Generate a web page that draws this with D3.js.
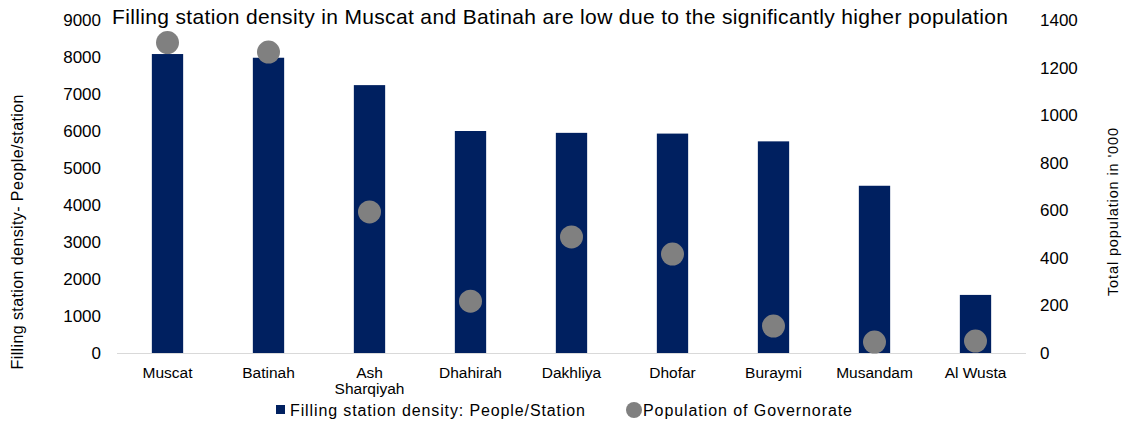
<!DOCTYPE html>
<html><head><meta charset="utf-8">
<script src="https://cdn.jsdelivr.net/npm/d3@7"></script>
<style>body{margin:0;background:#fff}svg{display:block;font-family:Arial,"Liberation Sans",sans-serif}</style>
</head><body>
<svg id="c" width="1125" height="423"></svg>
<script>
const categories = ["Muscat","Batinah","Ash Sharqiyah","Dhahirah","Dakhliya","Dhofar","Buraymi","Musandam","Al Wusta"];
const density = [8080,7980,7240,6000,5950,5930,5720,4520,1570];
const population = [1305,1265,593,218,488,416,113,46,50];
const leftTicks = [0,1000,2000,3000,4000,5000,6000,7000,8000,9000];
const rightTicks = [0,200,400,600,800,1000,1200,1400];
const titleText = "Filling station density in Muscat and Batinah are low due to the significantly higher population";

const svg = d3.select("#c");
const x = d3.scaleBand().domain(categories).range([117,1026]).paddingInner(0.69).paddingOuter(0.345);
const yL = d3.scaleLinear().domain([0,9000]).range([353,20]);
const yR = d3.scaleLinear().domain([0,1400]).range([353,20]);

// baseline
svg.append("line").attr("x1",117).attr("x2",1026).attr("y1",353.5).attr("y2",353.5).attr("stroke","#d9d9d9").attr("stroke-width",1);

// bars
svg.selectAll("rect.bar").data(categories).join("rect").attr("class","bar")
  .attr("x",d=>x(d)).attr("width",x.bandwidth())
  .attr("y",(d,i)=>yL(density[i])).attr("height",(d,i)=>yL(0)-yL(density[i]))
  .attr("fill","#002060");

// dots
svg.selectAll("circle.dot").data(categories).join("circle").attr("class","dot")
  .attr("cx",d=>x(d)+x.bandwidth()/2).attr("cy",(d,i)=>yR(population[i])).attr("r",11.5)
  .attr("fill","#808080");

// left axis
const axL = svg.append("g").attr("transform","translate(101,0)")
  .call(d3.axisLeft(yL).tickValues(leftTicks).tickSize(0).tickPadding(0).tickFormat(d3.format("d")));
axL.select(".domain").remove();
axL.selectAll("text").attr("font-size",17).attr("fill","#000").attr("font-family","Arial,'Liberation Sans',sans-serif");

// right axis
const axR = svg.append("g").attr("transform","translate(1040,0)")
  .call(d3.axisRight(yR).tickValues(rightTicks).tickSize(0).tickPadding(0).tickFormat(d3.format("d")));
axR.select(".domain").remove();
axR.selectAll("text").attr("font-size",17).attr("fill","#000").attr("font-family","Arial,'Liberation Sans',sans-serif");

// x axis
const axX = svg.append("g").attr("transform","translate(0,353)")
  .call(d3.axisBottom(x).tickSize(0).tickPadding(0));
axX.select(".domain").remove();
axX.selectAll("text").each(function(d){
  const t = d3.select(this); t.text(null);
  const words = d==="Ash Sharqiyah" ? ["Ash","Sharqiyah"] : [d];
  words.forEach((w,i)=>t.append("tspan").attr("x",0).attr("y",25+i*16).text(w));
}).attr("font-size",15.5).attr("fill","#000").attr("dy",null).attr("font-family","Arial,'Liberation Sans',sans-serif");

// title
svg.append("text").attr("x",560).attr("y",24).attr("text-anchor","middle")
  .attr("font-size",21).attr("fill","#000").attr("textLength",896).attr("lengthAdjust","spacing").text(titleText);

// axis titles
svg.append("text").attr("transform","translate(23,232) rotate(-90)").attr("text-anchor","middle")
  .attr("font-size",16).attr("fill","#000").attr("textLength",275).attr("lengthAdjust","spacing")
  .text("Filling station density- People/station");
svg.append("text").attr("transform","translate(1118,212) rotate(-90)").attr("text-anchor","middle")
  .attr("font-size",14.5).attr("fill","#000").attr("textLength",168).attr("lengthAdjust","spacing")
  .text("Total population in '000");

// legend
const lg = svg.append("g");
lg.append("rect").attr("x",276).attr("y",405).attr("width",9).attr("height",9).attr("fill","#002060");
lg.append("text").attr("x",290).attr("y",415.5).attr("font-size",16).attr("fill","#000")
  .attr("textLength",295).attr("lengthAdjust","spacing").text("Filling station density: People/Station");
lg.append("circle").attr("cx",634).attr("cy",410).attr("r",8).attr("fill","#808080");
lg.append("text").attr("x",643).attr("y",415.5).attr("font-size",16).attr("fill","#000")
  .attr("textLength",209).attr("lengthAdjust","spacing").text("Population of Governorate");
</script>
</body></html>
